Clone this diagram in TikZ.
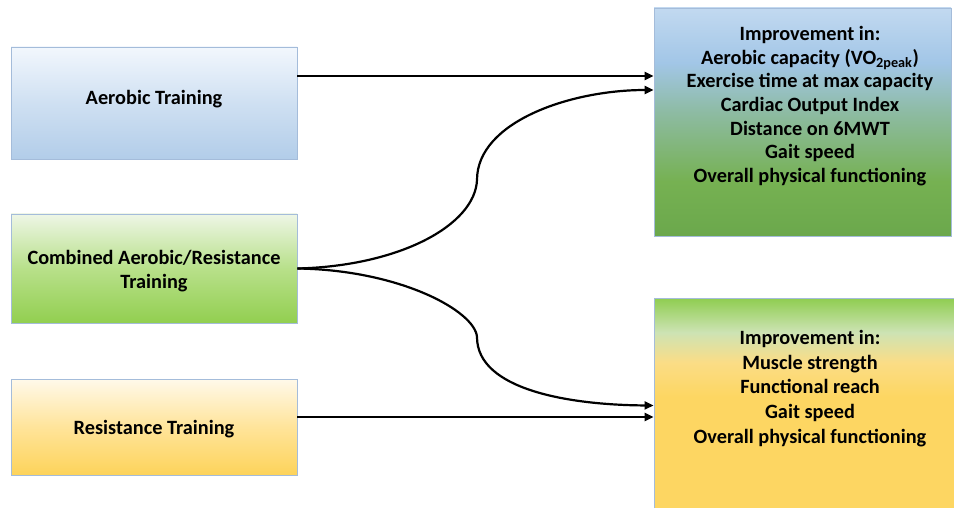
\documentclass[tikz,border=0pt]{standalone}
\usepackage{fontspec}
\setmainfont{Carlito}
\usetikzlibrary{arrows.meta}
\definecolor{edgeblue}{HTML}{A4BCDA}
\definecolor{aerTop}{HTML}{F2F7FD}
\definecolor{aerMid}{HTML}{CFE0F2}
\definecolor{aerBot}{HTML}{B2CDE9}
\definecolor{comTop}{HTML}{EEF6E6}
\definecolor{comMid}{HTML}{B8E08A}
\definecolor{comBot}{HTML}{92CF50}
\definecolor{resTop}{HTML}{FFF9EA}
\definecolor{resMid}{HTML}{FFE49A}
\definecolor{resBot}{HTML}{FDD35A}
\definecolor{trA}{HTML}{C2D9F0}
\definecolor{trB}{HTML}{A2C6E7}
\definecolor{trC}{HTML}{8DBBA2}
\definecolor{trD}{HTML}{76B152}
\definecolor{trE}{HTML}{6BA84C}
\definecolor{brA}{HTML}{8FCD50}
\definecolor{brB}{HTML}{CDE3B4}
\definecolor{brC}{HTML}{FBDD86}
\definecolor{brD}{HTML}{FDD662}
\pgfdeclareverticalshading{trshade}{100bp}{color(0bp)=(trE); color(25bp)=(trE); color(37bp)=(trD); color(52bp)=(trC); color(63bp)=(trB); color(75bp)=(trA); color(100bp)=(trA)}
\pgfdeclareverticalshading{brshade}{100bp}{color(0bp)=(brD); color(25bp)=(brD); color(52bp)=(brD); color(60bp)=(brC); color(67bp)=(brB); color(75bp)=(brA); color(100bp)=(brA)}
\tikzset{
  leftbox/.style={draw=edgeblue, line width=0.9pt, minimum width=286pt, inner sep=0pt},
  ltext/.style={font=\fontsize{20.3}{24}\selectfont\bfseries, align=center, inner sep=0pt},
  rightbox/.style={draw=edgeblue, line width=0.9pt, inner sep=0pt},
  rtext/.style={font=\fontsize{20.3}{23.7}\selectfont\bfseries, align=center, inner sep=0pt},
  conn/.style={line width=2.2pt, -{Triangle[length=9pt,width=8pt]}}
}
\begin{document}
\begin{tikzpicture}[x=1pt,y=-1pt]
\useasboundingbox (0,0) rectangle (954,508);
\clip (0,0) rectangle (954,508);
\fill[white] (0,0) rectangle (954,508);
% left boxes
\node[leftbox, minimum height=112pt, top color=aerTop, bottom color=aerBot, middle color=aerMid] (aer) at (154,103) {};
\node[ltext] (aert) at (154,99) {Aerobic Training};
\node[leftbox, minimum height=109pt, top color=comTop, bottom color=comBot, middle color=comMid] (com) at (154,268.5) {};
\node[ltext] (comt) at (154,271.5) {Combined Aerobic/Resistance\\Training};
\node[leftbox, minimum height=96pt, top color=resTop, bottom color=resBot, middle color=resMid] (res) at (154,427) {};
\node[ltext] (rest) at (154,429) {Resistance Training};
% right boxes
\node[rightbox, minimum width=297pt, minimum height=228pt, shading=trshade] (tr) at (802.5,122) {};
\node[rightbox, minimum width=302pt, minimum height=215pt, shading=brshade] (br) at (805,405.5) {};
\node[rtext] (trt) at (810,106) {Improvement in:\\Aerobic capacity (VO\textsubscript{2peak})\\Exercise time at max capacity\\Cardiac Output Index\\Distance on 6MWT\\Gait speed\\Overall physical functioning};
\node[rtext, font=\fontsize{20.3}{24.8}\selectfont\bfseries] (brt) at (810,388.5) {Improvement in:\\Muscle strength\\Functional reach\\Gait speed\\Overall physical functioning};
% connectors
\coordinate (m1) at (477,180);
\coordinate (m2) at (477,337);
\draw[conn] ([yshift=27pt]aer.east) -- ([yshift=27pt]aer.east -| tr.west);
\draw[conn] (com.east) .. controls (400,266) and (475,225) .. (m1) .. controls (477,122) and (570,90) .. ([yshift=32pt]tr.west);
\draw[conn] (com.east) .. controls (400,270) and (475,311) .. (m2) .. controls (477,390) and (570,405) .. (br.west);
\draw[conn] ([yshift=10pt]res.east) -- ([yshift=10pt]res.east -| br.west);
\end{tikzpicture}
\end{document}
